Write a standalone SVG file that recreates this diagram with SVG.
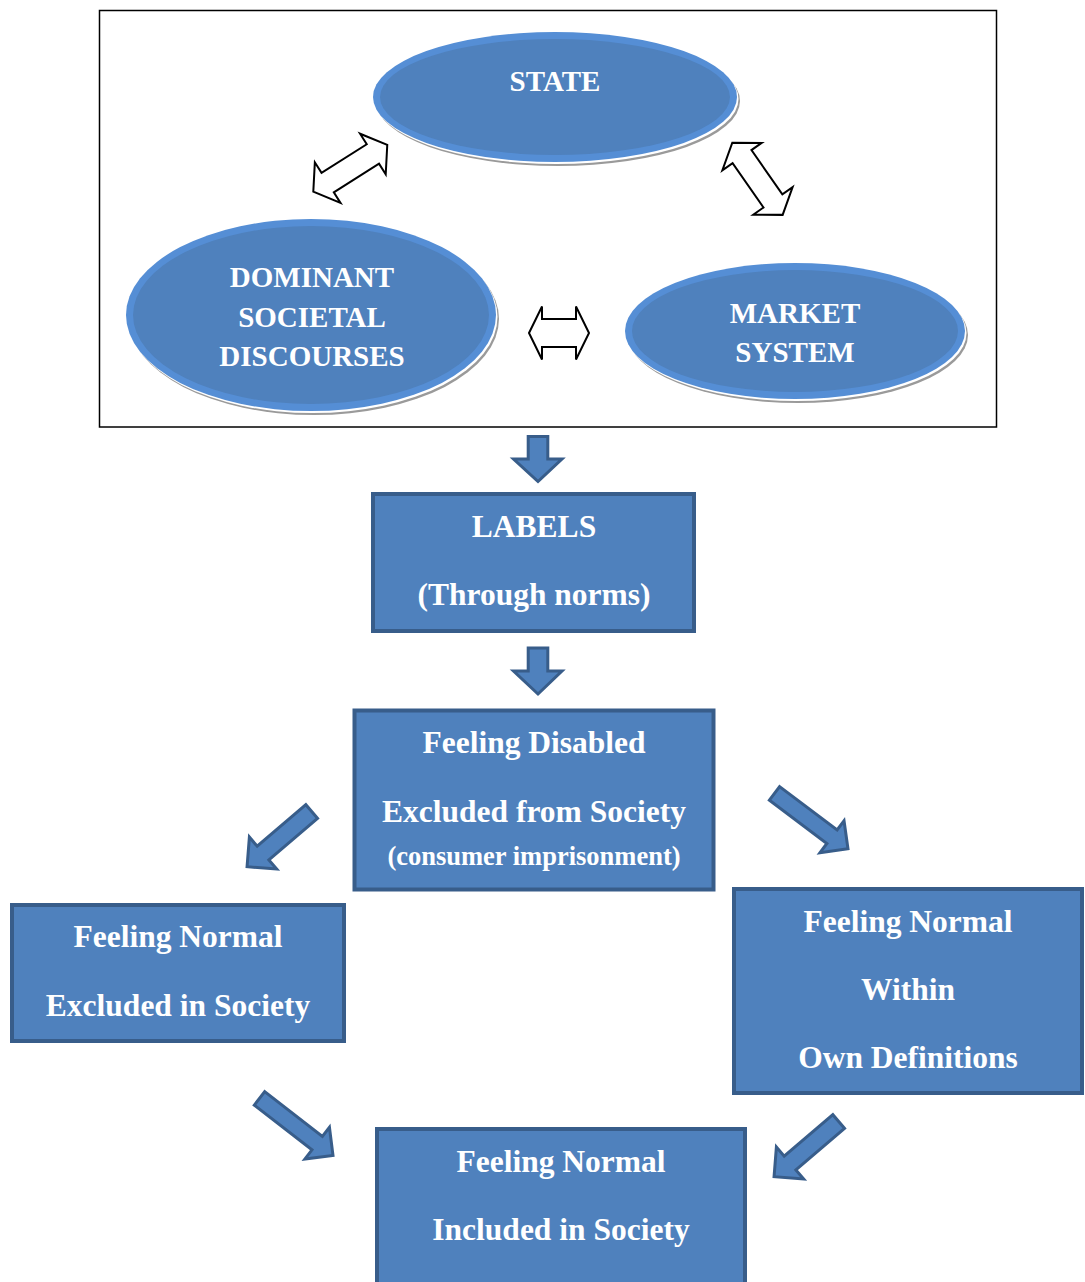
<svg xmlns="http://www.w3.org/2000/svg" width="1085" height="1282" viewBox="0 0 1085 1282">
<style>
.ring{fill:#558ED5}
.core{fill:#4F81BD}
.shadow{fill:#9A9A9A}
.hl{fill:#FFFFFF}
.box{fill:#4F81BD;stroke:#385D8A;stroke-width:4}
.blk{fill:#4F81BD;stroke:#385D8A;stroke-width:3;stroke-linejoin:miter}
.out{fill:#FFFFFF;stroke:#000000;stroke-width:2;stroke-linejoin:miter}
text{font-family:"Liberation Serif","Times New Roman",serif;font-weight:bold;fill:#FFFFFF;text-anchor:middle}
.et{font-size:29px}
.bt{font-size:31.5px}
.st{font-size:26.5px}
</style>
<rect x="0" y="0" width="1085" height="1282" fill="#FFFFFF"/>
<rect id="frame" x="99.5" y="10.5" width="897" height="416.5" fill="none" stroke="#000000" stroke-width="1.5"/>

<g id="state">
<ellipse class="shadow" cx="558" cy="101" rx="182" ry="65"/>
<ellipse class="hl" cx="556.5" cy="99" rx="182" ry="65"/>
<ellipse class="ring" cx="555" cy="97" rx="182" ry="65"/>
<ellipse class="core" cx="555" cy="97" rx="175" ry="58"/>
<text class="et" x="555" y="91">STATE</text>
</g>

<g id="dominant">
<ellipse class="shadow" cx="314" cy="319" rx="185" ry="96"/>
<ellipse class="hl" cx="312.5" cy="317" rx="185" ry="96"/>
<ellipse class="ring" cx="311" cy="315" rx="185" ry="96"/>
<ellipse class="core" cx="311" cy="315" rx="178" ry="89"/>
<text class="et" x="312" y="287">DOMINANT</text>
<text class="et" x="312" y="327">SOCIETAL</text>
<text class="et" x="312" y="366">DISCOURSES</text>
</g>

<g id="market">
<ellipse class="shadow" cx="798" cy="335" rx="170" ry="68"/>
<ellipse class="hl" cx="796.5" cy="333" rx="170" ry="68"/>
<ellipse class="ring" cx="795" cy="331" rx="170" ry="68"/>
<ellipse class="core" cx="795" cy="331" rx="163" ry="61"/>
<text class="et" x="795" y="323">MARKET</text>
<text class="et" x="795" y="362">SYSTEM</text>
</g>

<g id="labels">
<rect class="box" x="373" y="494" width="321" height="137"/>
<text class="bt" x="534" y="537">LABELS</text>
<text class="bt" x="534" y="605">(Through norms)</text>
</g>

<g id="disabled">
<rect class="box" x="354.5" y="710.5" width="359" height="179"/>
<text class="bt" x="534" y="753">Feeling Disabled</text>
<text class="bt" x="534" y="822">Excluded from Society</text>
<text class="st" x="534" y="865">(consumer imprisonment)</text>
</g>

<g id="normal-excluded">
<rect class="box" x="12" y="905" width="332" height="136"/>
<text class="bt" x="178" y="947">Feeling Normal</text>
<text class="bt" x="178" y="1016">Excluded in Society</text>
</g>

<g id="normal-within">
<rect class="box" x="734" y="889" width="348" height="204"/>
<text class="bt" x="908" y="932">Feeling Normal</text>
<text class="bt" x="908" y="1000">Within</text>
<text class="bt" x="908" y="1068">Own Definitions</text>
</g>

<g id="normal-included">
<rect class="box" x="377" y="1129" width="368" height="160"/>
<text class="bt" x="561" y="1172">Feeling Normal</text>
<text class="bt" x="561" y="1240">Included in Society</text>
</g>

<g id="connectors">
<polygon class="out" transform="translate(313.3,191.7) rotate(-32.3)" points="0,0 17,-24 17,-11.5 70.5,-11.5 70.5,-24 87.5,0 70.5,24 70.5,11.5 17,11.5 17,24"/>
<polygon class="out" transform="translate(732.3,142.7) rotate(55.1)" points="0,0 17,-24 17,-11.5 71,-11.5 71,-24 88,0 71,24 71,11.5 17,11.5 17,24"/>
<polygon class="out" transform="translate(529,333)" points="0,0 13,-26.5 13,-14 47,-14 47,-26.5 60,0 47,26.5 47,14 13,14 13,26.5"/>

<polygon class="blk" points="528.2,436.5 547.8,436.5 547.8,459 562,459 538,481.5 513.5,459 528.2,459"/>
<polygon class="blk" points="528.2,648 547.8,648 547.8,671 562,671 538,694 513.5,671 528.2,671"/>

<polygon class="blk" transform="translate(311.7,811.5) rotate(139.5)" points="0,-9 64,-9 64,-21 85,0 64,21 64,9 0,9"/>
<polygon class="blk" transform="translate(774.5,793.4) rotate(37)" points="0,-8.5 72,-8.5 72,-20 92,0 72,20 72,8.5 0,8.5"/>
<polygon class="blk" transform="translate(259.5,1098.4) rotate(37.8)" points="0,-8.5 73,-8.5 73,-20 93,0 73,20 73,8.5 0,8.5"/>
<polygon class="blk" transform="translate(838.7,1121.5) rotate(139.5)" points="0,-9 64,-9 64,-21 85,0 64,21 64,9 0,9"/>
</g>
</svg>
